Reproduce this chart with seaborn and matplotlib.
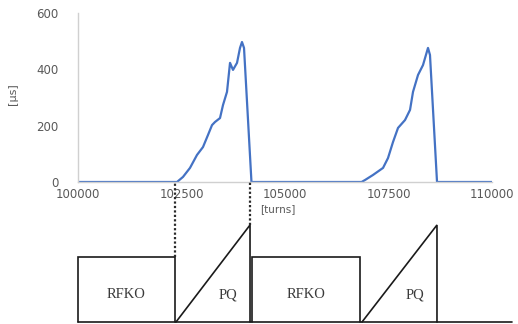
import numpy as np
import pandas as pd
import matplotlib
matplotlib.use("Agg")
import matplotlib.pyplot as plt
import seaborn as sns

# ---- data ----
turns = [100000, 102391, 102536, 102705, 102874, 103019, 103140, 103237, 103309,
         103430, 103502, 103599, 103672, 103744, 103841, 103913, 103961, 104010,
         104190, 106850, 106932, 107126, 107368, 107488, 107609, 107730, 107899,
         108020, 108092, 108213, 108333, 108454, 108502, 108672, 110000]
spill = [0, 0, 18, 50, 96, 124, 167, 202, 213,
         227, 273, 320, 423, 398, 423, 476, 497, 476,
         0, 0, 7, 25, 50, 85, 142, 192, 220,
         256, 320, 380, 415, 476, 451, 0, 0]

xticks = [100000, 102500, 105000, 107500, 110000]
yticks = [0, 200, 400, 600]

# schematic phases (turns)
phase_names = ["RFKO", "PQ", "RFKO", "PQ"]
phase_kind = ["box", "ramp", "box", "ramp"]
phase_start = [100000, 102367, 104203, 106860]
phase_end = [102343, 104155, 106812, 108671]
marker_turns = [102343, 104155]

W, H = 518, 324
sns.set_theme(style="white")
plt.rcParams['font.family'] = ['DejaVu Sans']

fig = plt.figure(figsize=(W / 100, H / 100), dpi=100)
fig.patch.set_facecolor("white")

# top chart axes
ax = fig.add_axes([78 / W, 1 - 182 / H, (492 - 78) / W, (182 - 13) / H])
df = pd.DataFrame({"turns": turns, "spill": spill})
sns.lineplot(data=df, x="turns", y="spill", ax=ax, color="#4472C4", lw=1.6, sort=False)
ax.set_xlim(100000, 110000)
ax.set_ylim(0, 600)
ax.set_xticks(xticks)
ax.set_xticklabels([str(t) for t in xticks])
ax.set_yticks(yticks)
ax.tick_params(axis="x", length=0, pad=4, labelsize=8.5, labelcolor="#595959")
ax.tick_params(axis="y", length=0, pad=14, labelsize=8.5, labelcolor="#595959")
for s in ["top", "right"]:
    ax.spines[s].set_visible(False)
for s in ["left", "bottom"]:
    ax.spines[s].set_color("#d0d0d0")
    ax.spines[s].set_linewidth(1.0)
ax.set_facecolor("none")
ax.set_xlabel("[turns]", fontsize=7.5, color="#595959")
ax.xaxis.set_label_coords(0.483, -0.16)
ax.xaxis.label.set_va("center")
ax.set_ylabel("[μs]", fontsize=8, color="#595959")
ax.yaxis.set_label_coords(-0.157, 0.52)
ax.yaxis.label.set_va("center")

# lower schematic axes (units: px from bottom)
ax2 = fig.add_axes([78 / W, 1 - 323 / H, (492 - 78) / W, (323 - 182) / H])
ax2.set_xlim(100000, 110000)
ax2.set_ylim(0, 141)
ax2.axis("off")
base, box_top, ramp_top = 1, 66, 98
lc = "#1a1a1a"
for name, kind, s, e in zip(phase_names, phase_kind, phase_start, phase_end):
    if kind == "box":
        ax2.plot([s, s, e, e], [base, box_top, box_top, base], color=lc, lw=1.2,
                 clip_on=False, solid_joinstyle="miter")
        ax2.text((s + e) / 2, 28, name, ha="center", va="center", fontsize=10.5,
                 family="Liberation Serif", color="#3a3a3a")
    else:
        ax2.plot([s, e, e], [base, ramp_top, base], color=lc, lw=1.2,
                 clip_on=False, solid_joinstyle="miter")
        ax2.text(e - 540, 28, name, ha="center", va="center", fontsize=10.5,
                 family="Liberation Serif", color="#3a3a3a")
ax2.plot([100000, 110480], [base, base], color=lc, lw=1.2, clip_on=False)
for t, yb in zip(marker_turns, [box_top, ramp_top]):
    ax2.plot([t, t], [yb, 141], color="#2a2a2a", lw=1.6, ls=(0, (1, 1)), clip_on=False)

fig.savefig("out.png", dpi=100, facecolor="white")
